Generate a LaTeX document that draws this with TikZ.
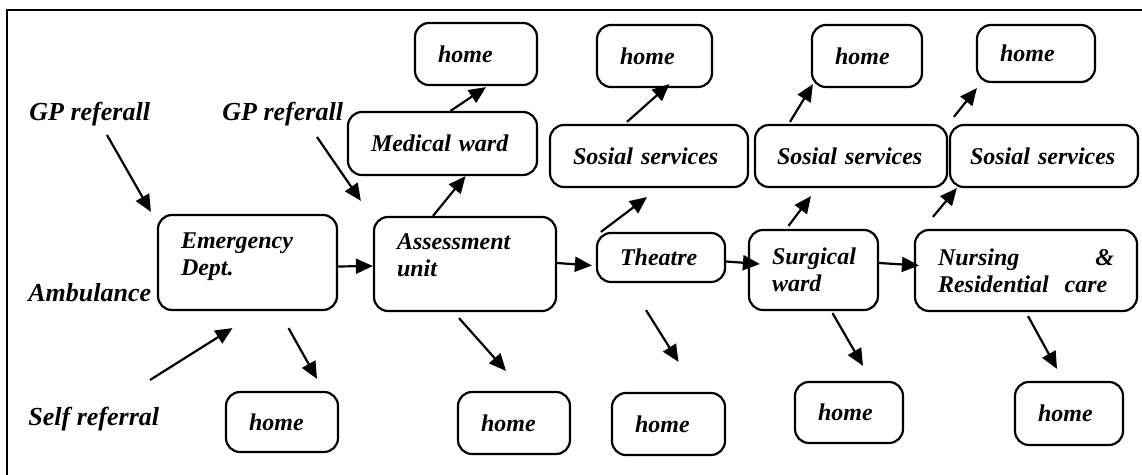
\documentclass[tikz,border=0pt]{standalone}
\usepackage{fontspec}
\setmainfont{Liberation Serif}
\usetikzlibrary{arrows.meta}

\begin{document}
\begin{tikzpicture}[x=0.5pt, y=-0.5pt,
  box/.style={draw, line width=1.1pt, rounded corners=7pt, inner xsep=11.5pt, inner ysep=0pt, align=left, font=\fontsize{12}{13.5}\selectfont\bfseries\itshape},
  lbl/.style={anchor=west, inner sep=0pt, font=\fontsize{13}{15}\selectfont\bfseries\itshape},
  arr/.style={-{Triangle[length=8.5pt, width=7.5pt]}, line width=1.1pt}
]
  \useasboundingbox (0,0) rectangle (1142,475);
  \draw[line width=1.3pt] (7,475) -- (7,10) -- (1142,10);

  % where patients come from
  \node[lbl] (gp1) at (29,114) {GP referall};
  \node[lbl] (gp2) at (222,114) {GP referall};
  \node[lbl] (amb) at (28,293) {Ambulance};
  \node[lbl] (self) at (28,419) {Self referral};

  % main pathway
  \node[box, text width=66.5pt, minimum height=47.5pt] (ed) at (247.5,262.5) {Emergency\\Dept.\\[-5pt]\mbox{}};
  \node[box, text width=68pt, minimum height=47pt] (au) at (465,264) {Assessment\\unit\\[-5pt]\mbox{}};
  \node[box, text width=41pt, minimum height=24.5pt] (th) at (661,257.5) {Theatre};
  \node[box, text width=41.5pt, minimum height=40pt] (sw) at (813.5,270) {Surgical\\ward};
  \node[box, text width=88pt, minimum height=40.5pt] (nr) at (1026,270.5) {Nursing \hfill \&\\Residential\ \ care};

  % wards and services
  \node[box, text width=71.5pt, minimum height=31.5pt] (mw) at (442.5,143.5) {Medical ward};
  \node[box, text width=76pt, minimum height=31pt] (ss1) at (649,156) {Sosial services};
  \node[box, text width=74pt, inner xsep=11pt, minimum height=31pt] (ss2) at (851,156) {Sosial services};
  \node[box, text width=74pt, inner xsep=10pt, minimum height=31pt] (ss3) at (1044,156) {Sosial services};

  % discharge home
  \node[box, text width=38pt, minimum height=31pt] (ht1) at (476,54) {home};
  \node[box, text width=34.5pt, minimum height=31pt] (ht2) at (654.5,56) {home};
  \node[box, text width=32pt, minimum height=31pt] (ht3) at (867,56) {home};
  \node[box, text width=36pt, minimum height=28.5pt] (ht4) at (1036,53.5) {home};
  \node[box, text width=33pt, minimum height=30pt] (hb1) at (282,422) {home};
  \node[box, text width=33pt, minimum height=31pt] (hb2) at (514,423) {home};
  \node[box, text width=33.5pt, minimum height=31pt] (hb3) at (668.5,424) {home};
  \node[box, text width=31pt, minimum height=30.5pt] (hb4) at (849,412.5) {home};
  \node[box, text width=31pt, minimum height=31.5pt] (hb5) at (1069,413.5) {home};

  \draw[arr] ([shift={(78,21)}]gp1.west) -- ([shift={(-6,-2)}]ed.north west);
  \draw[arr] ([shift={(95,23)}]gp2.west) -- ([shift={(-12,-15)}]au.north west);
  \draw[arr] ([shift={(122,-39)}]self.west) -- ([shift={(-15,17)}]ed.south);
  \draw[arr] ([shift={(41,17)}]ed.south) -- ([shift={(35,-12)}]hb1.north);
  \draw[arr] ([shift={(0,4)}]ed.east) -- ([shift={(0,2)}]au.west);

  \draw[arr] ([shift={(-32,0)}]au.north) -- ([shift={(23,0)}]mw.south);
  \draw[arr] ([shift={(8,0)}]mw.north) -- ([shift={(10,1)}]ht1.south);
  \draw[arr] ([shift={(-6,6)}]au.south) -- ([shift={(-8,-20)}]hb2.north);
  \draw[arr] ([shift={(0,-1)}]au.east) -- ([shift={(-4,8)}]th.west);

  \draw[arr] ([shift={(5,0)}]th.north west) -- ([shift={(-2,9)}]ss1.south);
  \draw[arr] ([shift={(-22,-2)}]ss1.north) -- ([shift={(15,-4)}]ht2.south);
  \draw[arr] ([shift={(-15,27)}]th.south) -- ([shift={(10,-30)}]hb3.north);
  \draw[arr] ([shift={(0,4)}]th.east) -- ([shift={(12,-6)}]sw.west);

  \draw[arr] ([shift={(-25,-3)}]sw.north) -- ([shift={(-40,8)}]ss2.south);
  \draw[arr] ([shift={(-61,-2)}]ss2.north) -- ([shift={(2,-4)}]ht3.south west);
  \draw[arr] ([shift={(19,2)}]sw.south) -- ([shift={(14,-15)}]hb4.north);
  \draw[arr] ([shift={(0,-7)}]sw.east) -- ([shift={(5,-5)}]nr.west);

  \draw[arr] ([shift={(19,-12)}]nr.north west) -- ([shift={(8,0)}]ss3.south west);
  \draw[arr] ([shift={(5,-7)}]ss3.north west) -- ([shift={(1,5)}]ht4.south west);
  \draw[arr] ([shift={(2,4)}]nr.south) -- ([shift={(-12,-12)}]hb5.north);
\end{tikzpicture}
\end{document}
